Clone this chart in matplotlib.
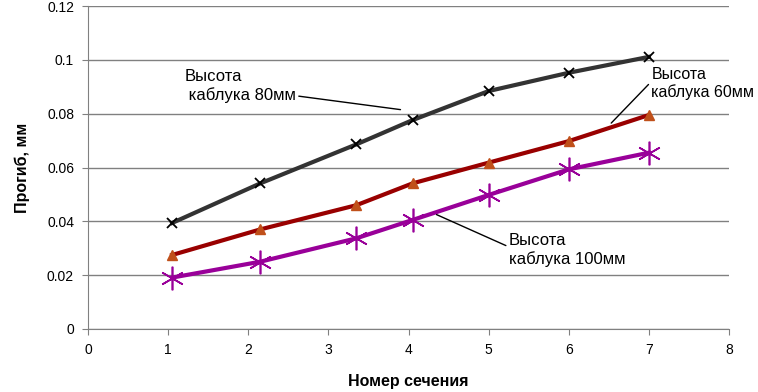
import matplotlib.pyplot as plt

plt.rcParams['font.family'] = ['Liberation Sans', 'DejaVu Sans']

# section positions (as plotted) and deflections for each heel height
sect = [1.05, 2.15, 3.35, 4.05, 5.0, 6.0, 7.0]
h80 = [0.0394, 0.0541, 0.0686, 0.0776, 0.0884, 0.0952, 0.1011]
h60 = [0.0275, 0.0370, 0.0460, 0.0541, 0.0618, 0.0698, 0.0795]
h100 = [0.0191, 0.0250, 0.0337, 0.0405, 0.0498, 0.0593, 0.0655]

xticks = [0, 1, 2, 3, 4, 5, 6, 7, 8]
yticks = [0, 0.02, 0.04, 0.06, 0.08, 0.1, 0.12]
ylabels = ['0', '0.02', '0.04', '0.06', '0.08', '0.1', '0.12']

fig = plt.figure(figsize=(7.58, 3.92), dpi=100)
ax = fig.add_axes([88 / 758, 1 - 329 / 392, 641 / 758, 323 / 392])

ax.plot(sect, h80, color='#333333', lw=3, marker='x', ms=7, mec='black', mew=1.3, zorder=3)
ax.plot(sect, h60, color='#990000', lw=3, marker='^', ms=7, mfc='#c0501a', mec='#c0501a', zorder=3)
ax.plot(sect, h100, color='#990099', lw=3, marker=(6, 2, 0), ms=17, mec='#990099', mew=1.2, zorder=3)

ax.set_xlim(0, 8)
ax.set_ylim(0, 0.12)
ax.set_xticks(xticks)
ax.set_yticks(yticks, ylabels)
ax.grid(axis='y', color='#808080', lw=1)
ax.set_axisbelow(True)
for s in ['top', 'right']:
    ax.spines[s].set_visible(False)
for s in ['left', 'bottom']:
    ax.spines[s].set_color('#808080')
ax.tick_params(direction='out', length=4, color='#808080', labelsize=10, pad=6)

ax.set_xlabel('Номер сечения', fontsize=11.5, fontweight='bold', labelpad=12)
ax.set_ylabel('Прогиб, мм', fontsize=11.5, fontweight='bold', labelpad=12)

ann = dict(va='top', ha='left')
ax.annotate('Высота\n каблука 80мм', xy=(3.9, 0.0815), xytext=(1.2, 0.0965), fontsize=12,
            arrowprops=dict(arrowstyle='-', color='black', lw=1, shrinkA=0, shrinkB=0,
                            relpos=(0.9, 0.25)), **ann)
ax.annotate('Высота\nкаблука 60мм', xy=(6.53, 0.0765), xytext=(7.03, 0.0975), fontsize=11.5,
            arrowprops=dict(arrowstyle='-', color='black', lw=1, shrinkA=0, shrinkB=0,
                            relpos=(0.0, 0.55)), **ann)
ax.annotate('Высота\nкаблука 100мм', xy=(4.35, 0.0425), xytext=(5.25, 0.0355), fontsize=12,
            arrowprops=dict(arrowstyle='-', color='black', lw=1, shrinkA=0, shrinkB=0,
                            relpos=(0.0, 0.6)), **ann)

fig.savefig('out.png', dpi=100)
